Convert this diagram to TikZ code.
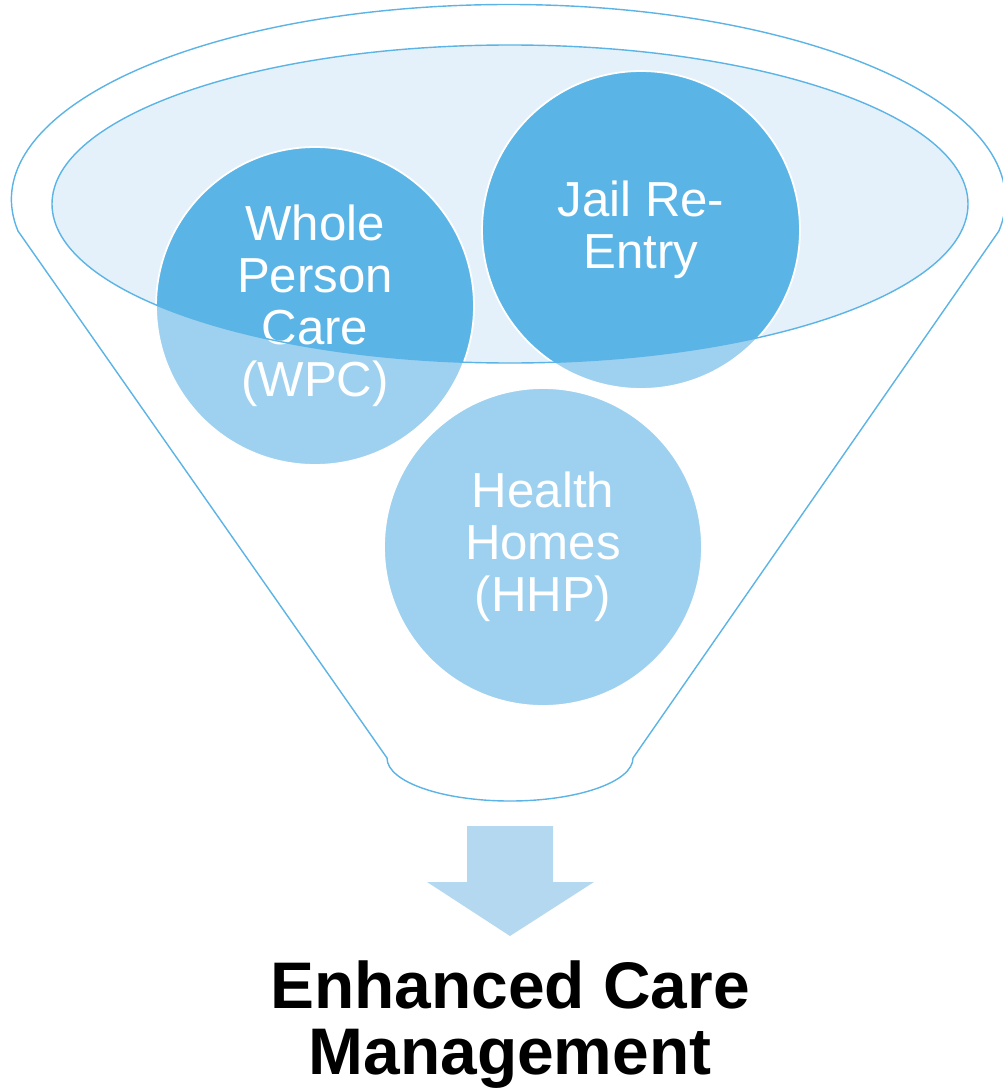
\documentclass[tikz,border=0pt]{standalone}
\usepackage{fontspec}
\setmainfont{Liberation Sans}
\usepackage{tikz}
\usetikzlibrary{positioning}
\definecolor{rimline}{HTML}{5BB4E5}
\definecolor{bowlfill}{HTML}{E5F1FA}
\definecolor{bubblelight}{HTML}{9DD1EF}
\definecolor{bubbledark}{HTML}{5AB5E6}
\definecolor{arrowfill}{HTML}{B5D8F1}
\begin{document}
\begin{tikzpicture}[x=0.02cm, y=0.02cm]
      \tikzset{
         rim/.style = {
            draw=rimline, line width=0.8pt
         },
         bubble/.style = {
            circle, fill=bubblelight, draw=white, line width=1pt,
            minimum size=6.36cm, inner sep=0pt,
            text=white, align=center,
            font=\fontsize{28}{29.5}\selectfont,
            path picture={\fill[bubbledark] (bowl) ellipse [x radius=458, y radius=159];}
         },
         title/.style = {
            align=center, inner sep=0pt,
            font=\fontsize{37.5}{38}\selectfont\bfseries
         }
      }
      \useasboundingbox (0,0) rectangle (1002,-1088) ;
      \coordinate (bowl) at (510,-204) ;
      \coordinate (tip) at (510,-936) ;
      \draw[rim] (18,-231) arc [start angle=189.3, end angle=-9.3, x radius=497, y radius=195]
        -- (633,-758) arc [start angle=0, end angle=-180, x radius=123, y radius=43] -- cycle ;
      \fill[bowlfill] (bowl) ellipse [x radius=458, y radius=159] ;
      \node[bubble] (wpc) at (315,-306) {Whole\\Person\\Care\\(WPC)} ;
      \node[bubble] (jail) at (641,-230) {Jail Re-\\Entry} ;
      \node[bubble] (hhp) at (543,-547) {Health\\Homes\\(HHP)} ;
      \draw[rim] (bowl) ellipse [x radius=458, y radius=159] ;
      \fill[arrowfill] (467,-826) -- (553,-826) -- (553,-882) -- (594,-882) -- (tip)
        -- (427,-882) -- (467,-882) -- cycle ;
      \node[title, below=0.48cm of tip] (ecm) {Enhanced Care\\Management} ;
    \end{tikzpicture}
\end{document}
